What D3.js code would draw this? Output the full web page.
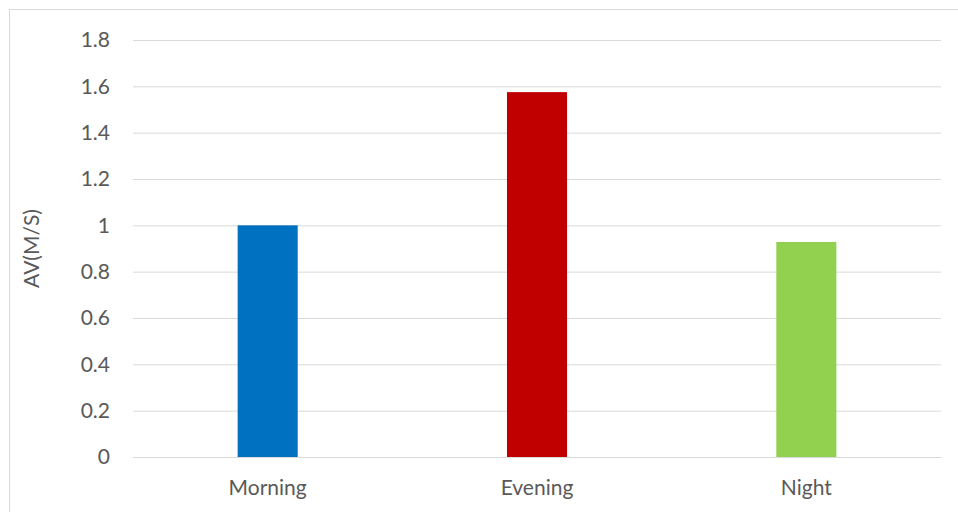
<!DOCTYPE html>
<html><head><meta charset="utf-8">
<script src="https://cdn.jsdelivr.net/npm/d3@7"></script>
<style>body{margin:0;background:#fff}svg{display:block}</style>
</head><body>
<svg id="c" width="958" height="512"></svg>
<script>
const categories = ["Morning", "Evening", "Night"];
const values = [1.0, 1.575, 0.928];
const colors = ["#0070C0", "#C00000", "#92D050"];
const yTicks = [0, 0.2, 0.4, 0.6, 0.8, 1, 1.2, 1.4, 1.6, 1.8];
const yLabel = "AV(M/S)";

(function () {
const svg = d3.select("#c");
const font = "Lato, 'Open Sans', sans-serif";
const fs = "21px";
svg.append("rect").attr("x", 9.5).attr("y", 9.5).attr("width", 960).attr("height", 520)
  .attr("fill", "#fff").attr("stroke", "#d9d9d9");

const mL = 133, mR = 941, mT = 40, mB = 457;
const x = d3.scaleBand().domain(categories).range([mL, mR]).paddingInner(0.777).paddingOuter(0.3885);
const y = d3.scaleLinear().domain([0, 1.8]).range([mB, mT]);

const yAxis = svg.append("g").attr("transform", `translate(${mL},0)`)
  .call(d3.axisLeft(y).tickValues(yTicks).tickSize(-(mR - mL)).tickPadding(23).tickFormat(d => String(d)));
yAxis.select(".domain").remove();
yAxis.selectAll(".tick line").attr("stroke", "#d9d9d9").attr("stroke-width", 1);
yAxis.selectAll(".tick text").attr("fill", "#595959").style("font-family", font).style("font-size", fs);

svg.selectAll("rect.bar").data(values).enter().append("rect").attr("class", "bar")
  .attr("x", (d, i) => x(categories[i]))
  .attr("width", x.bandwidth())
  .attr("y", d => y(d))
  .attr("height", d => y(0) - y(d))
  .attr("fill", (d, i) => colors[i]);

const xAxis = svg.append("g").attr("transform", `translate(0,${mB})`)
  .call(d3.axisBottom(x).tickSize(0).tickPadding(23));
xAxis.select(".domain").attr("stroke", "#d9d9d9");
xAxis.selectAll(".tick text").attr("fill", "#595959").style("font-family", font).style("font-size", fs);

svg.append("text").attr("transform", `translate(39,${(mT + mB) / 2}) rotate(-90)`)
  .attr("text-anchor", "middle").attr("fill", "#595959")
  .style("font-family", font).style("font-size", fs).text(yLabel);
})();
</script>
</body></html>
